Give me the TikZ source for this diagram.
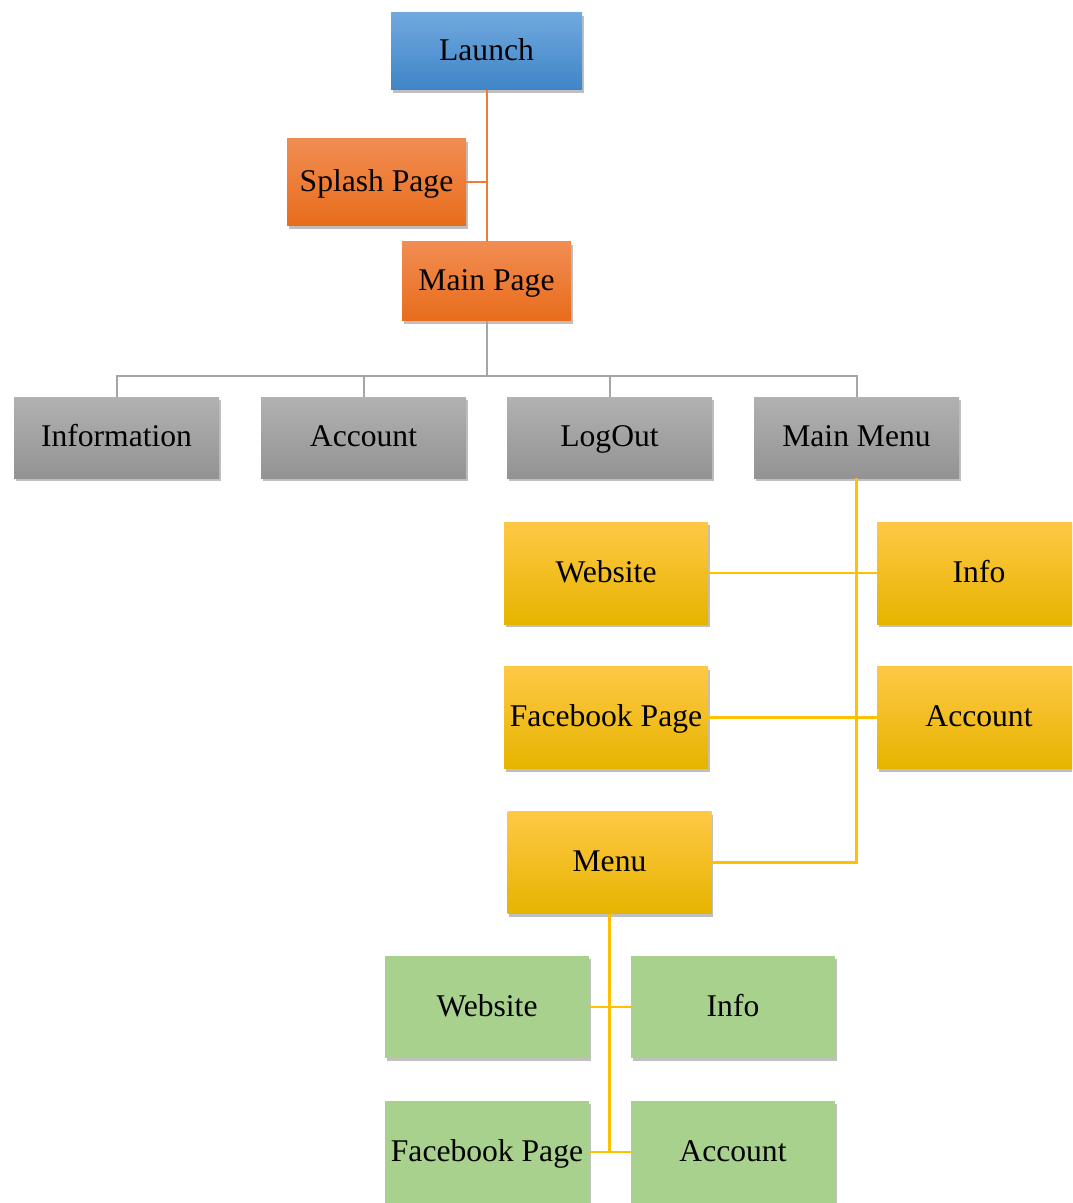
\documentclass[tikz,border=0pt]{standalone}
\usepackage{fontspec}
\setmainfont{Liberation Serif}
\usepackage{xcolor}
\usetikzlibrary{shadows}
\usetikzlibrary{positioning}

\definecolor{bluetop}{HTML}{70A8DE}
\definecolor{bluebot}{HTML}{3E85C8}
\definecolor{orangetop}{HTML}{F18D52}
\definecolor{orangebot}{HTML}{E86C1B}
\definecolor{graytop}{HTML}{B1B1B1}
\definecolor{graybot}{HTML}{939393}
\definecolor{yellowtop}{HTML}{FFC845}
\definecolor{yellowmid}{HTML}{FFC000}
\definecolor{yellowbot}{HTML}{E6B400}
\definecolor{greenbox}{HTML}{A9D18E}
\definecolor{orangeline}{HTML}{ED7D31}
\definecolor{grayline}{HTML}{A5A5A5}
\definecolor{yellowline}{HTML}{FFC000}

\tikzset{
  box/.style={rectangle, inner sep=0pt,
    font=\fontsize{15.8}{19}\selectfont, text height=0.92em, text depth=0pt,
    drop shadow={shadow xshift=0.8pt, shadow yshift=-1.6pt, opacity=0.25, fill=black}},
  bluebox/.style={box, minimum width=95.5pt, minimum height=38.5pt,
    top color=bluetop, bottom color=bluebot},
  orangebox/.style={box, top color=orangetop, bottom color=orangebot},
  graybox/.style={box, minimum width=102.5pt, minimum height=40.5pt,
    top color=graytop, bottom color=graybot},
  yellowbox/.style={box, minimum width=102pt, minimum height=51pt,
    top color=yellowtop, middle color=yellowmid, bottom color=yellowbot},
  greenbox/.style={box, minimum width=102pt, minimum height=51pt, fill=greenbox},
}

\begin{document}
\begin{tikzpicture}[x=0.5pt, y=-0.5pt]
			\useasboundingbox (0,0) rectangle (1072,1203);
			\clip (0,0) rectangle (1072,1203);
			
			\node[bluebox] (launch) at (486.5,51.5) {Launch};
			\node[orangebox, minimum width=89.5pt, minimum height=43.5pt] (splash) at (376.5,182.5) {Splash Page};
			\node[orangebox, minimum width=84.5pt, minimum height=39.5pt] (mainpage) at (486.5,281.5) {Main Page};
			
			\node[graybox] (information) at (116.5,437.5) {Information};
			\node[graybox] (account) at (363.5,437.5) {Account};
			\node[graybox] (logout) at (609.5,437.5) {LogOut};
			\node[graybox] (mainmenu) at (856.5,437.5) {Main Menu};
			
			\node[yellowbox] (website) at (606,573) {Website};
			\node[yellowbox] (info) at (979,573) {Info};
			\node[yellowbox] (facebook) at (606,717.5) {Facebook Page};
			\node[yellowbox] (account2) at (979,717.5) {Account};
			\node[yellowbox] (menu) at (609.5,862.5) {Menu};
			
			\node[greenbox] (website2) at (487,1007) {Website};
			\node[greenbox] (info2) at (733,1007) {Info};
			\node[greenbox] (facebook2) at (487,1152) {Facebook Page};
			\node[greenbox] (account3) at (733,1152) {Account};
			
			\coordinate (bus) at (486.5,376);
			
			\draw[orangeline, line width=1pt] (launch.south) -- (mainpage.north);
			\draw[orangeline, line width=1pt] (splash.east) -- (splash.east -| launch.south);
			
			\draw[grayline, line width=1pt] (mainpage.south) -- (bus);
			\foreach \n in {information, account, logout, mainmenu}
				\draw[grayline, line width=1pt] (\n.north) |- (bus);
			
			\draw[yellowline, line width=1.2pt] (mainmenu.south) |- (menu.east);
			\draw[yellowline, line width=1.2pt] (website.east) -- (info.west);
			\draw[yellowline, line width=1.2pt] (facebook.east) -- (account2.west);
			
			\draw[yellowline, line width=1.2pt] (menu.south) |- (facebook2.east);
			\draw[yellowline, line width=1.2pt] (website2.east) -- (info2.west);
			\draw[yellowline, line width=1.2pt] (facebook2.east) -- (account3.west);
		\end{tikzpicture}
\end{document}
